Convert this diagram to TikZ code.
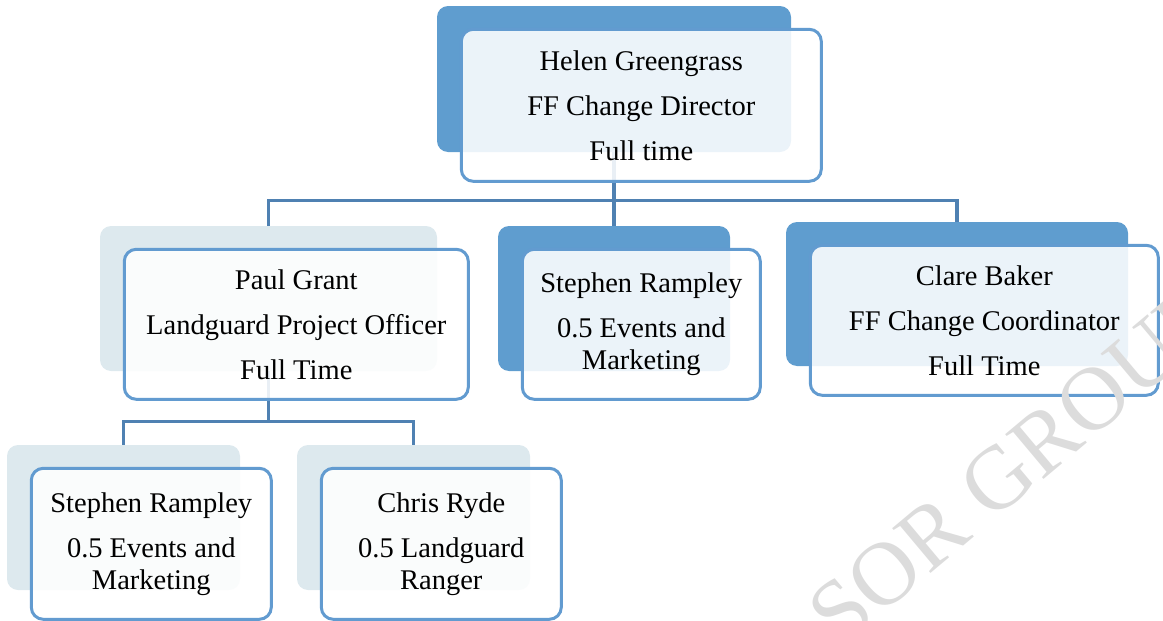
\documentclass[tikz,border=0pt]{standalone}
\usepackage{fontspec}
\setmainfont{Liberation Serif}
\usetikzlibrary{positioning}
\definecolor{deepblue}{RGB}{95,157,207}
\definecolor{paleblue}{RGB}{221,233,238}
\definecolor{edgeblue}{RGB}{98,155,208}
\definecolor{linkblue}{RGB}{79,129,178}
\definecolor{markgray}{RGB}{220,220,220}
\begin{document}
\begin{tikzpicture}[x=1pt,y=-1pt,
   darkback/.style={fill=deepblue,rounded corners=11pt,inner sep=0pt},
   lightback/.style={fill=paleblue,rounded corners=11pt,inner sep=0pt},
   card/.style={draw=edgeblue,line width=3pt,fill=white,fill opacity=.88,
      text opacity=1,rounded corners=12pt,inner sep=0pt,align=center,
      font=\fontsize{28.5}{32}\selectfont},
   link/.style={draw=linkblue,line width=3.2pt}]
   \useasboundingbox (0,0) rectangle (1163,621);
   \clip (0,0) rectangle (1163,621);
   % shaded plates behind each card
   \node[darkback,minimum width=354pt,minimum height=146pt] (helenbk) at (614,79) {};
   \node[lightback,minimum width=337pt,minimum height=145pt] (paulbk) at (268.5,298.5) {};
   \node[darkback,minimum width=232pt,minimum height=145pt] (stephbk) at (614,298.5) {};
   \node[darkback,minimum width=342pt,minimum height=144pt] (clarebk) at (957,294) {};
   \node[lightback,minimum width=233pt,minimum height=145pt] (rampbk) at (123.5,517.5) {};
   \node[lightback,minimum width=233pt,minimum height=145pt] (chrisbk) at (413.5,517.5) {};
   % reporting lines
   \draw[link] (helenbk.south) -- ++(0,48) -| (paulbk.north);
   \draw[link] (helenbk.south) -- ++(0,48) -| (stephbk.north);
   \draw[link] (helenbk.south) -- ++(0,48) -| (clarebk.north);
   \draw[link] (paulbk.south) -- ++(0,50) -| (rampbk.north);
   \draw[link] (paulbk.south) -- ++(0,50) -| (chrisbk.north);
   % the cards
   \node[card,minimum width=360pt,minimum height=152pt,
      below right=22pt and 23pt of helenbk.north west] (helen)
      {Helen Greengrass\\[13pt]FF Change Director\\[13pt]Full time};
   \node[card,minimum width=344pt,minimum height=150pt,
      below right=22pt and 23pt of paulbk.north west] (paul)
      {Paul Grant\\[13pt]Landguard Project Officer\\[13pt]Full Time};
   \node[card,minimum width=238pt,minimum height=150pt,
      below right=22pt and 23pt of stephbk.north west] (steph)
      {Stephen Rampley\\[13pt]0.5 Events and\\Marketing};
   \node[card,minimum width=348pt,minimum height=150pt,
      below right=22pt and 23pt of clarebk.north west] (clare)
      {Clare Baker\\[13pt]FF Change Coordinator\\[13pt]Full Time};
   \node[card,minimum width=240pt,minimum height=151pt,
      below right=22pt and 23pt of rampbk.north west] (ramp)
      {Stephen Rampley\\[13pt]0.5 Events and\\Marketing};
   \node[card,minimum width=240pt,minimum height=151pt,
      below right=22pt and 23pt of chrisbk.north west] (chris)
      {Chris Ryde\\[13pt]0.5 Landguard\\Ranger};
   % watermark
   \node[markgray,rotate=40,anchor=base west,inner sep=0pt,
      font=\fontsize{90}{90}\selectfont] (mark) at (840,650) {SOR GROUP};
\end{tikzpicture}
\end{document}
